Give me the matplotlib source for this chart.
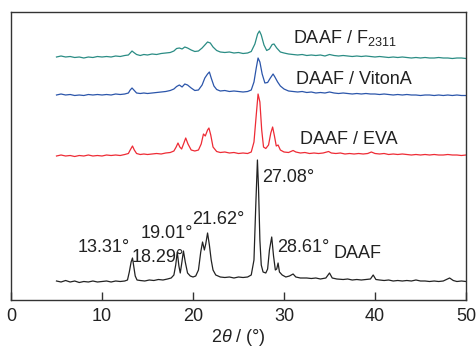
import matplotlib
matplotlib.use("Agg")
import matplotlib.pyplot as plt
import numpy as np

plt.rcParams['font.family'] = ['Liberation Sans', 'DejaVu Sans']
plt.rcParams['mathtext.fontset'] = 'custom'
plt.rcParams['mathtext.rm'] = 'Liberation Sans'
plt.rcParams['mathtext.it'] = 'Liberation Sans:italic'

# ---- data (2theta, intensity offset units) ----
daaf_x = [5.0, 5.5, 6.0, 6.5, 7.0, 7.5, 8.0, 8.5, 9.0, 9.5, 10.0, 10.5, 11.0, 11.5, 12.0, 12.5, 12.8, 13.0, 13.2, 13.35, 13.5, 13.65, 13.85,
          14.2, 14.7, 15.2, 15.7, 16.2, 16.7, 17.2, 17.6, 17.9, 18.1, 18.27, 18.45, 18.6, 18.75, 18.95, 19.15, 19.4, 19.7, 20.0, 20.3,
          20.6, 20.85, 21.05, 21.25, 21.4, 21.6, 21.8, 22.0, 22.2, 22.5, 23.0, 23.5, 24.0, 24.5, 25.0, 25.5, 26.0, 26.4, 26.7, 26.9,
          27.08, 27.2, 27.35, 27.5, 27.7, 28.0, 28.2, 28.4, 28.65, 28.85, 29.05, 29.2, 29.35, 29.5, 29.8, 30.2, 30.6, 31.0, 31.3, 31.8,
          32.5, 33.0, 33.5, 34.0, 34.6, 35.0, 35.3, 35.8, 36.5, 37.0, 37.5, 38.0, 38.5, 39.0, 39.5, 39.8, 40.1, 40.5, 41.0, 41.5, 42.0,
          42.5, 43.0, 43.5, 44.0, 44.5, 45.0, 45.5, 46.0, 46.5, 47.0, 47.5, 48.2, 48.6, 49.0, 49.5, 50.0]
daaf_y = [19, 18, 19.5, 18, 19, 17.5, 18.5, 18, 19, 18, 18.5, 19, 18, 19, 18.5, 19, 20, 28, 38, 42, 33, 24, 20,
          19.5, 19, 20, 19.5, 20.5, 20, 21, 22, 25, 35, 48, 34, 27, 36, 49, 38, 27, 24, 23, 24,
          30, 48, 58, 50, 56, 67, 55, 40, 30, 25, 23, 22.5, 23, 22, 23, 22.5, 23, 25, 40, 95,
          140, 112, 60, 35, 28, 27, 31, 50, 63, 44, 30, 31, 37, 28, 25, 23, 24, 26, 23, 22,
          22, 21.5, 22, 21, 22, 27, 22, 21, 20.5, 21, 20, 20.5, 20, 20.5, 21, 25, 20.5, 20, 19.5, 20, 19,
          19.5, 19, 19.5, 19, 20, 19, 19, 18.5, 19, 18.5, 19, 22, 19.5, 18.5, 19, 18.5]

eva_x = [5.0, 5.5, 6.0, 6.5, 7.0, 7.5, 8.0, 8.5, 9.0, 9.5, 10.0, 10.5, 11.0, 11.5, 12.0, 12.5, 12.9, 13.1, 13.35, 13.55, 13.8,
         14.2, 14.6, 15.0, 15.5, 16.0, 16.5, 17.0, 17.5, 17.9, 18.15, 18.35, 18.55, 18.75, 19.0, 19.2, 19.45, 19.8, 20.2, 20.6,
         20.9, 21.15, 21.35, 21.6, 21.75, 21.95, 22.2, 22.6, 23.0, 23.5, 24.0, 24.5, 25.0, 25.5, 26.0, 26.4, 26.7, 26.95, 27.15,
         27.35, 27.55, 27.75, 28.0, 28.3, 28.55, 28.75, 28.95, 29.15, 29.35, 29.6, 30.0, 30.5, 31.0, 31.3, 31.8, 32.3, 32.8, 33.3,
         33.8, 34.3, 34.9, 35.2, 35.7, 36.2, 36.7, 37.2, 37.7, 38.2, 38.7, 39.2, 39.6, 40.0, 40.5, 41.0, 41.5, 42.0, 42.5, 43.0,
         43.5, 44.0, 44.5, 45.0, 45.5, 46.0, 46.5, 47.0, 47.5, 48.0, 48.5, 49.0, 49.5, 50.0]
eva_y = [144, 145, 144, 144.5, 143.5, 144.5, 144, 145, 144, 144.5, 144, 145, 144.5, 145, 144.5, 145.5, 146.5, 150, 154, 150, 146.5,
         145.5, 146, 145.5, 146, 146.5, 146, 147, 147.5, 149, 153, 157, 153, 151, 157, 162, 156, 150, 149, 150,
         156, 166, 164, 170, 172, 165, 153, 148.5, 147.5, 148, 147, 147.5, 146.5, 147, 146.5, 148, 158, 185, 206,
         198, 170, 153, 151.5, 155, 167, 173, 164, 154, 155, 150, 148, 147.5, 149.5, 148, 147, 147.5, 146.5, 147,
         146.5, 147, 148.5, 147, 146.5, 147, 146, 146.5, 146, 146.5, 146, 146.5, 148, 146.5, 146, 146.5, 145.5, 146, 145.5, 146,
         145.5, 145, 145.5, 145, 145.5, 145, 145.5, 145, 145, 145.5, 145, 145, 144.5, 145]

viton_x = [5.0, 5.5, 6.0, 6.5, 7.0, 7.5, 8.0, 8.5, 9.0, 9.5, 10.0, 10.5, 11.0, 11.5, 12.0, 12.5, 12.9, 13.1, 13.3, 13.5, 13.8,
           14.2, 14.6, 15.0, 15.5, 16.0, 16.5, 17.0, 17.5, 17.9, 18.2, 18.5, 18.8, 19.1, 19.4, 19.8, 20.2, 20.6, 21.0, 21.3,
           21.6, 21.8, 22.0, 22.3, 22.6, 23.0, 23.5, 24.0, 24.5, 25.0, 25.5, 26.0, 26.4, 26.7, 26.95, 27.15, 27.35, 27.6, 27.9,
           28.2, 28.5, 28.8, 29.0, 29.3, 29.6, 30.0, 30.5, 31.0, 31.5, 32.0, 32.5, 33.0, 33.5, 34.0, 34.5, 35.0, 35.5, 36.0,
           36.5, 37.0, 37.5, 38.0, 38.5, 39.0, 39.5, 40.0, 40.5, 41.0, 41.5, 42.0, 42.5, 43.0, 43.5, 44.0, 44.5, 45.0, 45.5,
           46.0, 46.5, 47.0, 47.5, 48.0, 48.5, 49.0, 49.5, 50.0]
viton_y = [205, 206, 205, 205.5, 204.5, 205, 204.5, 205.5, 205, 205.5, 205, 205.5, 205, 206, 205.5, 206, 207, 210, 212, 210, 207,
           206.5, 207, 206.5, 207, 207.5, 208, 208.5, 209.5, 211, 213.5, 215, 213, 216, 215, 212, 209.5, 210, 215, 222,
           226, 228, 222, 214, 210.5, 209, 209.5, 208.5, 209, 208.5, 208, 208.5, 210, 218, 232, 242, 238, 226, 217,
           217.5, 222, 226, 223, 218, 214, 211, 209, 208.5, 208, 208.5, 207.5, 208, 207, 207.5, 207, 208, 207, 206.5,
           207, 206.5, 206, 206.5, 206, 206.5, 206, 206, 205.5, 206, 205.5, 205, 205.5, 205, 205.5, 205, 205, 204.5, 205,
           205, 204.5, 205, 204.5, 205, 204.5, 205, 204.5, 204.5]

f2311_x = [5.0, 5.5, 6.0, 6.5, 7.0, 7.5, 8.0, 8.5, 9.0, 9.5, 10.0, 10.5, 11.0, 11.5, 12.0, 12.5, 12.9, 13.1, 13.3, 13.5, 13.8,
           14.2, 14.6, 15.0, 15.5, 16.0, 16.5, 17.0, 17.5, 17.9, 18.2, 18.5, 18.8, 19.1, 19.4, 19.8, 20.2, 20.6, 21.0, 21.3,
           21.6, 21.9, 22.2, 22.6, 23.0, 23.5, 24.0, 24.5, 25.0, 25.5, 26.0, 26.4, 26.8, 27.1, 27.3, 27.5, 27.8, 28.1, 28.4,
           28.7, 28.9, 29.2, 29.6, 30.0, 30.5, 31.0, 31.5, 32.0, 32.5, 33.0, 33.5, 34.0, 34.5, 35.0, 35.5, 36.0, 36.5, 37.0,
           37.5, 38.0, 38.5, 39.0, 39.5, 40.0, 40.5, 41.0, 41.5, 42.0, 42.5, 43.0, 43.5, 44.0, 44.5, 45.0, 45.5, 46.0, 46.5,
           47.0, 47.5, 48.0, 48.5, 49.0, 49.5, 50.0]
f2311_y = [243, 244, 243, 243.5, 242.5, 243, 242, 243, 242.5, 243.5, 243, 243.5, 243, 244, 243.5, 244.5, 245, 247, 249, 247.5, 245.5,
           244.5, 245.5, 245, 246, 245.5, 246.5, 247, 247.5, 249, 251.5, 252, 251, 253, 252, 250, 248.5, 249, 252, 255,
           258, 257, 253, 249.5, 248, 247.5, 248, 247, 247.5, 246.5, 247, 248.5, 256, 266, 269, 265, 255, 249.5, 251,
           255.5, 256, 252, 248, 247, 246, 245.5, 245, 245.5, 244.5, 245, 244.5, 245, 244, 245.5, 244.5, 244, 244.5, 244,
           243.5, 244, 243.5, 244, 243.5, 243, 243.5, 243, 242.5, 243, 242.5, 243, 242.5, 242, 242.5, 242, 242.5, 242, 242,
           242.5, 242, 242, 241.5, 242, 242, 241.5]

series_colors = {"DAAF": "#222222", "EVA": "#ee2b35", "VitonA": "#2b55aa", "F2311": "#2a8c84"}

peak_labels = ["13.31°", "18.29°", "19.01°", "21.62°", "27.08°", "28.61°"]
peak_label_x = [7.35, 13.3, 14.2, 19.9, 27.6, 29.2]
peak_label_y = [53, 43, 67, 81, 122, 53]

sample_labels = ["DAAF", "DAAF / EVA", "DAAF / VitonA", "DAAF / F$_{2311}$"]
sample_label_x = [35.4, 31.8, 31.3, 31.0]
sample_label_y = [46, 161, 221, 262]

xticks = [0, 10, 20, 30, 40, 50]

# ---- figure ----
fig = plt.figure(figsize=(4.77, 3.51), dpi=100)
ax = fig.add_axes([11/477, 1 - 300/351, 455/477, 288/351])

lw = 0.9
ax.plot(daaf_x, daaf_y, color=series_colors["DAAF"], lw=lw)
ax.plot(eva_x, eva_y, color=series_colors["EVA"], lw=lw)
ax.plot(viton_x, viton_y, color=series_colors["VitonA"], lw=lw)
ax.plot(f2311_x, f2311_y, color=series_colors["F2311"], lw=lw)

fs = 13
for t, x, y in zip(peak_labels, peak_label_x, peak_label_y):
    ax.text(x, y, t, fontsize=fs, ha='left', va='center', color='#222222')
for t, x, y in zip(sample_labels, sample_label_x, sample_label_y):
    ax.text(x, y, t, fontsize=fs, ha='left', va='center', color='#222222')

ax.set_xlim(0, 50)
ax.set_ylim(0, 288)
ax.set_xticks(xticks)
ax.set_yticks([])
ax.tick_params(axis='x', direction='in', length=6, width=1, labelsize=13, pad=6, colors='#333333', labelcolor='#222222')
for s in ax.spines.values():
    s.set_color('#333333')
    s.set_linewidth(1.0)
ax.set_xlabel(r"2$\it{\theta}$ / (°)", fontsize=13, labelpad=1, color='#222222')

fig.savefig("out.png", dpi=100)
